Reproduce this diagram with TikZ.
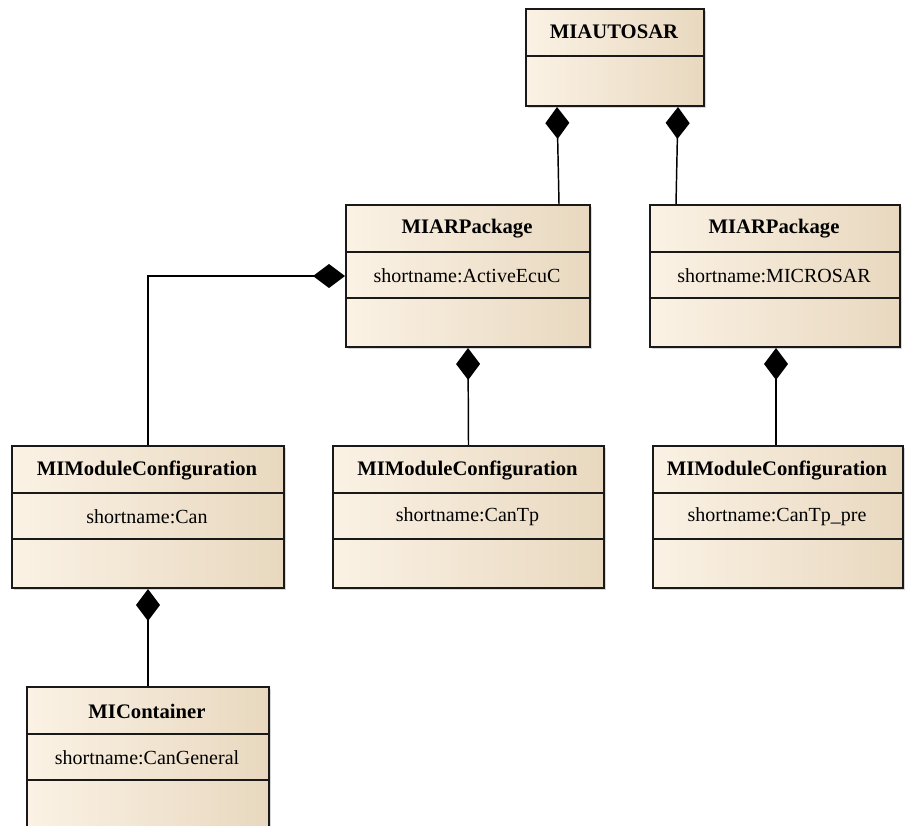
\documentclass[tikz,border=0pt]{standalone}
\usepackage{fontspec}
\setmainfont{Liberation Serif}
\usetikzlibrary{arrows.meta,shadows}

\definecolor{boxleft}{HTML}{FBF2E5}
\definecolor{boxright}{HTML}{E8D8BF}

% class box: name, x, y (top left), width, height, title, shortname
\newcommand{\miclass}[7]{
\node[classbox, minimum width=#4*0.75pt, minimum height=#5*0.75pt] (#1) at (#2,#3) {};
\draw[sep] (#2,#3+48) -- (#2+#4,#3+48);
\draw[sep] (#2,#3+94) -- (#2+#4,#3+94);
\node[title] (#1-t) at (#2+#4/2,#3+25) {#6};
\node[attr] (#1-a) at (#2+#4/2,#3+72) {shortname:#7};
}

\begin{document}
\begin{tikzpicture}[x=0.75pt, y=-0.75pt,
  classbox/.style={draw=black!90, line width=1.5pt, anchor=north west, inner sep=0pt,
    left color=boxleft, right color=boxright,
    drop shadow={shadow xshift=1.5pt, shadow yshift=-1.5pt, fill=black!30, opacity=.5}},
  sep/.style={draw=black!90, line width=1.5pt},
  title/.style={font=\fontsize{15.5}{18}\selectfont\bfseries},
  attr/.style={font=\fontsize{15}{18}\selectfont},
  compo/.style={draw=black, line width=1.1pt, -{Diamond[length=24pt,width=18pt]}}]

\useasboundingbox (0,0) rectangle (912,825);
\clip (0,0) rectangle (912,825);

% root
\node[classbox, minimum width=178*0.75pt, minimum height=97*0.75pt] (autosar) at (525,8) {};
\draw[sep] (525,56) -- (703,56);
\node[title] (autosar-t) at (614,32) {MIAUTOSAR};

\miclass{pkgA}{345}{204}{244}{142}{MIARPackage}{ActiveEcuC}
\miclass{pkgB}{649}{204}{250}{142}{MIARPackage}{MICROSAR}
\miclass{modA}{11}{445}{272}{142}{MIModuleConfiguration}{Can}
\miclass{modB}{332}{445}{271}{142}{MIModuleConfiguration}{CanTp}
\miclass{modC}{652}{445}{250}{142}{MIModuleConfiguration}{CanTp\_pre}
\miclass{cont}{26}{686}{242}{160}{MIContainer}{CanGeneral}

% compositions
\draw[compo] ([xshift=-32*0.75pt]pkgA.north east) -- ([xshift=32*0.75pt]autosar.south west);
\draw[compo] ([xshift=27*0.75pt]pkgB.north west) -- ([xshift=-27*0.75pt]autosar.south east);
\draw[compo] (modA.north) |- (pkgA.west);
\draw[compo] (modB.north) -- (pkgA.south);
\draw[compo] ([xshift=-1.5pt]modC.north) -- ([xshift=-1.5pt]modC.north |- pkgB.south);
\draw[compo] (cont.north) -- (modA.south);

\end{tikzpicture}
\end{document}
